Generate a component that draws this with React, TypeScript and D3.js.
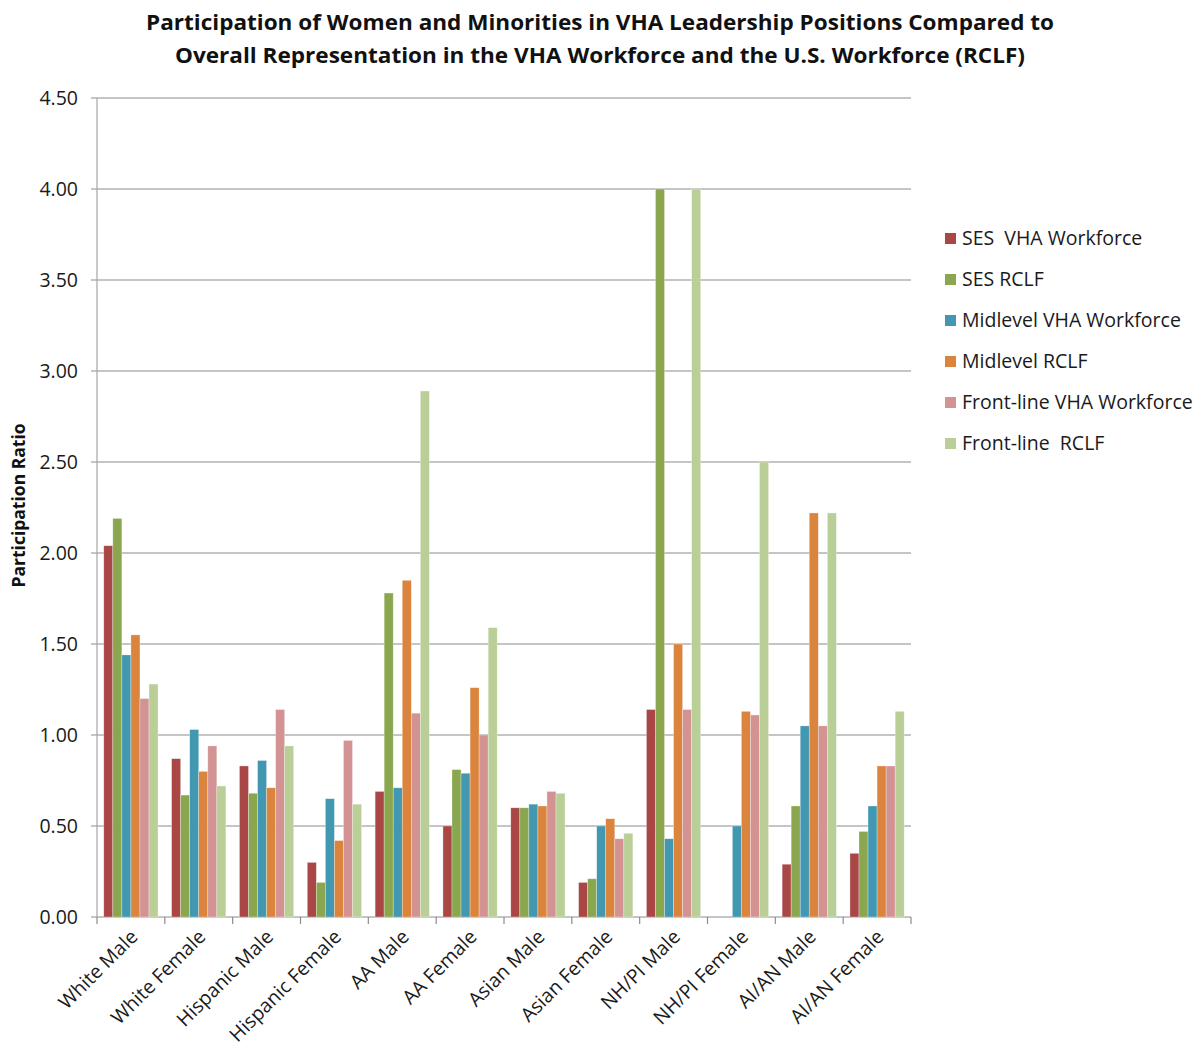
import * as d3 from "d3";

const WIDTH = 1200;
const HEIGHT = 1049;
const MARGIN = { top: 98, right: 289, bottom: 132, left: 97 };

const categories = [
  "White Male",
  "White Female",
  "Hispanic Male",
  "Hispanic Female",
  "AA Male",
  "AA Female",
  "Asian Male",
  "Asian Female",
  "NH/PI Male",
  "NH/PI Female",
  "AI/AN Male",
  "AI/AN Female",
];

const seriesNames = [
  "SES  VHA Workforce",
  "SES RCLF",
  "Midlevel VHA Workforce",
  "Midlevel RCLF",
  "Front-line VHA Workforce",
  "Front-line  RCLF",
];

const sesVha = [2.04, 0.87, 0.83, 0.3, 0.69, 0.5, 0.6, 0.19, 1.14, 0, 0.29, 0.35];
const sesRclf = [2.19, 0.67, 0.68, 0.19, 1.78, 0.81, 0.6, 0.21, 4.0, 0, 0.61, 0.47];
const midVha = [1.44, 1.03, 0.86, 0.65, 0.71, 0.79, 0.62, 0.5, 0.43, 0.5, 1.05, 0.61];
const midRclf = [1.55, 0.8, 0.71, 0.42, 1.85, 1.26, 0.61, 0.54, 1.5, 1.13, 2.22, 0.83];
const frontVha = [1.2, 0.94, 1.14, 0.97, 1.12, 1.0, 0.69, 0.43, 1.14, 1.11, 1.05, 0.83];
const frontRclf = [1.28, 0.72, 0.94, 0.62, 2.89, 1.59, 0.68, 0.46, 4.0, 2.5, 2.22, 1.13];

const seriesValues = [sesVha, sesRclf, midVha, midRclf, frontVha, frontRclf];
const colors = ["#A94746", "#8AA64E", "#4298B0", "#DB843D", "#D39393", "#BACF97"];
const yTicks = [0, 0.5, 1, 1.5, 2, 2.5, 3, 3.5, 4, 4.5];

const FONT = "'Open Sans', 'Liberation Sans', sans-serif";

export default function App() {
  const boundsWidth = WIDTH - MARGIN.left - MARGIN.right;
  const boundsHeight = HEIGHT - MARGIN.top - MARGIN.bottom;

  const xScale = d3.scaleBand().domain(categories).range([0, boundsWidth]).paddingInner(0.2).paddingOuter(0.1);
  const step = xScale.step();
  const xSub = d3.scaleBand().domain(seriesNames).range([0, xScale.bandwidth()]);
  const yScale = d3.scaleLinear().domain([0, 4.5]).range([boundsHeight, 0]);

  return (
    <svg width={WIDTH} height={HEIGHT} style={{ display: "block", position: "absolute", left: 0, top: 0, background: "#fff" }}>
      {/* Title */}
      <g fontFamily={FONT} fontWeight="bold" fontSize={21.5} fill="#111">
        <text x={146} y={30} textLength={908} lengthAdjust="spacingAndGlyphs">
          Participation of Women and Minorities in VHA Leadership Positions Compared to
        </text>
        <text x={175} y={63} textLength={850} lengthAdjust="spacingAndGlyphs">
          Overall Representation in the VHA Workforce and the U.S. Workforce (RCLF)
        </text>
      </g>

      <g transform={`translate(${MARGIN.left},${MARGIN.top})`}>
        {/* gridlines + y labels */}
        {yTicks.map((t) => (
          <g key={t} transform={`translate(0,${yScale(t)})`}>
            <line x1={-6} x2={boundsWidth} stroke="#8c8c8c" strokeWidth={1.2} />
            <text x={-19} dy="0.36em" textAnchor="end" fontFamily={FONT} fontSize={19.5} fill="#1a1a1a">
              {t.toFixed(2)}
            </text>
          </g>
        ))}
        <line x1={0} x2={0} y1={0} y2={boundsHeight} stroke="#a6a6a6" strokeWidth={1.2} />

        {/* bars */}
        {categories.map((c, i) => (
          <g key={c} transform={`translate(${xScale(c)},0)`}>
            {seriesValues.map((vals, s) =>
              vals[i] > 0 ? (
                <rect
                  key={s}
                  x={xSub(seriesNames[s])}
                  y={yScale(vals[i])}
                  width={xSub.bandwidth()}
                  height={boundsHeight - yScale(vals[i])}
                  fill={colors[s]}
                  stroke="#ffffff"
                  strokeOpacity={0.5}
                  strokeWidth={0.6}
                />
              ) : null
            )}
          </g>
        ))}

        {/* x axis ticks */}
        {d3.range(categories.length + 1).map((k) => (
          <line key={k} x1={k * step} x2={k * step} y1={boundsHeight} y2={boundsHeight + 7} stroke="#8c8c8c" strokeWidth={1.2} />
        ))}

        {/* x labels */}
        {categories.map((c) => {
          const cx = (xScale(c) as number) + xScale.bandwidth() / 2 + 8;
          return (
            <text
              key={c}
              transform={`translate(${cx},${boundsHeight + 21}) rotate(-45)`}
              textAnchor="end"
              fontFamily={FONT}
              fontSize={19.5}
              fill="#1a1a1a"
            >
              {c}
            </text>
          );
        })}
      </g>

      {/* y axis title */}
      <text
        transform={`translate(25,${MARGIN.top + boundsHeight / 2 - 2}) rotate(-90)`}
        textAnchor="middle"
        fontFamily={FONT}
        fontWeight="bold"
        fontSize={17.5}
        fill="#111"
      >
        Participation Ratio
      </text>

      {/* legend */}
      <g fontFamily={FONT} fontSize={19.5} fill="#1a1a1a">
        {seriesNames.map((n, i) => (
          <g key={n} transform={`translate(945,${238 + i * 41})`}>
            <rect x={0} y={-5} width={11} height={11} fill={colors[i]} />
            <text x={17} dy="0.36em" style={{ whiteSpace: "pre" }}>
              {n}
            </text>
          </g>
        ))}
      </g>
    </svg>
  );
}
